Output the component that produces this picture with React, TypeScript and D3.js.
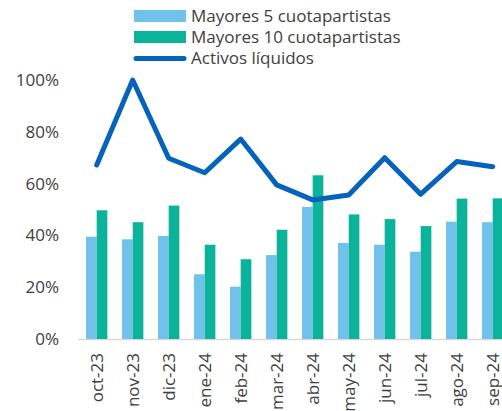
import React from 'react';
import * as d3 from 'd3';

const categories = ['oct-23', 'nov-23', 'dic-23', 'ene-24', 'feb-24', 'mar-24', 'abr-24', 'may-24', 'jun-24', 'jul-24', 'ago-24', 'sep-24'];
const top5 = [39.5, 38.5, 39.8, 25.0, 20.2, 32.4, 51.0, 37.1, 36.4, 33.7, 45.3, 45.1];
const top10 = [49.7, 45.1, 51.5, 36.4, 30.8, 42.2, 63.2, 48.1, 46.3, 43.6, 54.2, 54.3];
const liquidos = [67.2, 100, 69.8, 64.2, 77.2, 59.5, 53.7, 55.6, 70.0, 55.9, 68.5, 66.5];
const yTicks = [0, 20, 40, 60, 80, 100];
const legendLabels = ['Mayores 5 cuotapartistas', 'Mayores 10 cuotapartistas', 'Activos líquidos'];

const W = 502;
const H = 411;
const C5 = '#71c2ea';
const C10 = '#0bb39a';
const CL = '#0563bb';
const TXT = '#404040';
const FONT = '"Open Sans", "Noto Sans", sans-serif';
const FS = 17;

export default function App() {
  // category band extends a little past the right edge, like the original
  const x = d3.scaleBand<string>().domain(categories).range([78.7, 510.7]).paddingInner(0).paddingOuter(0);
  const y = d3.scaleLinear().domain([0, 100]).range([339, 80]);
  const bw = x.bandwidth();
  const barW = bw * 0.296;

  const line = d3
    .line<number>()
    .x((_, i) => (x(categories[i]) as number) + bw / 2)
    .y((d) => y(d));

  return (
    <svg width={W} height={H} style={{ position: 'absolute', left: 0, top: 0 }} fontFamily={FONT}>
      {/* y axis labels */}
      {yTicks.map((t) => (
        <text key={t} x={59} y={y(t)} dy="0.35em" textAnchor="end" fontSize={FS} fill={TXT}>
          {t}%
        </text>
      ))}
      <line x1={78} x2={W} y1={y(0) + 0.5} y2={y(0) + 0.5} stroke="#d9d9d9" strokeWidth={1.5} />
      {/* bars */}
      {categories.map((c, i) => {
        const cx = (x(c) as number) + bw / 2;
        return (
          <g key={c}>
            <rect x={cx - barW} y={y(top5[i])} width={barW} height={y(0) - y(top5[i])} fill={C5} />
            <rect x={cx} y={y(top10[i])} width={barW} height={y(0) - y(top10[i])} fill={C10} />
          </g>
        );
      })}
      <path d={line(liquidos) ?? ''} fill="none" stroke={CL} strokeWidth={5} strokeLinejoin="round" strokeLinecap="round" />
      {/* x labels */}
      {categories.map((c) => {
        const cx = (x(c) as number) + bw / 2;
        return (
          <text key={c} transform={`translate(${cx},353) rotate(-90)`} dy="0.35em" textAnchor="end" fontSize={FS} fill={TXT}>
            {c}
          </text>
        );
      })}
      {/* legend */}
      <rect x={134} y={10} width={52} height={12} fill={C5} />
      <rect x={134} y={31} width={52} height={12} fill={C10} />
      <line x1={136} x2={184} y1={58.5} y2={58.5} stroke={CL} strokeWidth={5} strokeLinecap="round" />
      {legendLabels.map((l, i) => (
        <text key={l} x={191} y={16 + i * 21.2} dy="0.35em" fontSize={FS} fill={TXT}>
          {l}
        </text>
      ))}
    </svg>
  );
}
